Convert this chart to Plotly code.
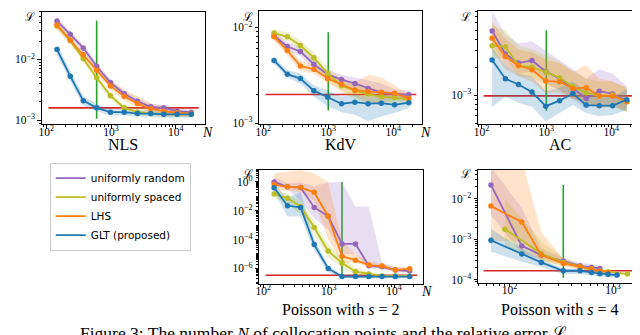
import plotly.graph_objects as go

W, H = 640, 335

# ---------------- data ----------------
N_TOP = [146, 234, 372, 600, 980, 1600, 2570, 4110, 6560, 10500, 17400]

series_names = ["uniformly random", "uniformly spaced", "LHS", "GLT (proposed)"]
series_keys = ["random", "spaced", "lhs", "glt"]
colors = {"random": "#9467bd", "spaced": "#bcbd22", "lhs": "#ff7f0e", "glt": "#1f77b4"}

# NLS
nls_random = [0.0426, 0.0259, 0.0154, 0.0077, 0.00415, 0.00272, 0.00205, 0.00166, 0.0016, 0.00141, 0.00136]
nls_random_lo = [0.037, 0.023, 0.0137, 0.0068, 0.0037, 0.0024, 0.0018, 0.00148, 0.00143, 0.00128, 0.00124]
nls_random_hi = [0.049, 0.029, 0.0174, 0.0087, 0.0047, 0.0031, 0.0023, 0.00185, 0.00178, 0.00156, 0.00148]
nls_lhs = [0.0366, 0.0207, 0.0119, 0.00664, 0.00366, 0.00247, 0.00188, 0.00154, 0.00141, 0.00133, 0.00128]
nls_lhs_lo = [0.032, 0.018, 0.0104, 0.0058, 0.0032, 0.0021, 0.0016, 0.00135, 0.00125, 0.00119, 0.00115]
nls_lhs_hi = [0.041, 0.023, 0.0135, 0.0077, 0.0044, 0.0031, 0.0025, 0.0019, 0.0017, 0.00148, 0.0014]
nls_spaced = [0.0353, 0.0202, 0.0102, 0.00499, 0.00253, 0.0016, 0.00136, 0.00129, 0.00125, 0.00125, 0.00125]
nls_spaced_lo = [0.031, 0.0178, 0.009, 0.0044, 0.0022, 0.00142, 0.00122, 0.00116, 0.00113, 0.00113, 0.00113]
nls_spaced_hi = [0.04, 0.023, 0.0116, 0.0057, 0.0029, 0.0018, 0.00152, 0.00143, 0.00139, 0.00139, 0.00139]
nls_glt = [0.0145, 0.0053, 0.0021, 0.0016, 0.00136, 0.00136, 0.00129, 0.00129, 0.00125, 0.00125, 0.00125]
nls_glt_lo = [0.0118, 0.0044, 0.00175, 0.0014, 0.0012, 0.0012, 0.00114, 0.00114, 0.0011, 0.0011, 0.0011]
nls_glt_hi = [0.0175, 0.0064, 0.0025, 0.00185, 0.00153, 0.00152, 0.00145, 0.00145, 0.0014, 0.0014, 0.0014]

# KdV
kdv_random = [0.0082, 0.00633, 0.00561, 0.00412, 0.00323, 0.00286, 0.0026, 0.00231, 0.00209, 0.00202, 0.00198]
kdv_random_lo = [0.0074, 0.0057, 0.0050, 0.0037, 0.0029, 0.0026, 0.00232, 0.0020, 0.00185, 0.00182, 0.0018]
kdv_random_hi = [0.0090, 0.0070, 0.0062, 0.0046, 0.0036, 0.0032, 0.0030, 0.0028, 0.0026, 0.00225, 0.0022]
kdv_lhs = [0.008, 0.00574, 0.00396, 0.00366, 0.00293, 0.00256, 0.00222, 0.00214, 0.00209, 0.00206, 0.00182]
kdv_lhs_lo = [0.0073, 0.0051, 0.0035, 0.0033, 0.0026, 0.0022, 0.0019, 0.00165, 0.00165, 0.00175, 0.0017]
kdv_lhs_hi = [0.0088, 0.0065, 0.0045, 0.0041, 0.0033, 0.0030, 0.0027, 0.0032, 0.0030, 0.0025, 0.0020]
kdv_spaced = [0.00874, 0.008, 0.00648, 0.00483, 0.0033, 0.00246, 0.00219, 0.00202, 0.0019, 0.00185, 0.00178]
kdv_spaced_lo = [0.0079, 0.0072, 0.0058, 0.0042, 0.0029, 0.0021, 0.0018, 0.0016, 0.0016, 0.0016, 0.0016]
kdv_spaced_hi = [0.0095, 0.0089, 0.0073, 0.0055, 0.0038, 0.0029, 0.0026, 0.0024, 0.0022, 0.0021, 0.0020]
kdv_glt = [0.00453, 0.00325, 0.00293, 0.00219, 0.00187, 0.0016, 0.00166, 0.0016, 0.00162, 0.00156, 0.00164]
kdv_glt_lo = [0.0042, 0.0030, 0.0026, 0.0019, 0.0015, 0.0013, 0.00123, 0.00105, 0.00118, 0.00128, 0.00144]
kdv_glt_hi = [0.0049, 0.0036, 0.0033, 0.0025, 0.0022, 0.0019, 0.0020, 0.0019, 0.0020, 0.0019, 0.0019]

# AC
ac_random = [0.00491, 0.00277, 0.00221, 0.00236, 0.0018, 0.0015, 0.00118, 0.00092, 0.0011, 0.00103, 0.00087]
ac_random_lo = [0.0036, 0.0021, 0.0017, 0.0018, 0.00135, 0.00113, 0.0009, 0.00072, 0.00082, 0.00078, 0.00068]
ac_random_hi = [0.0080, 0.0045, 0.0036, 0.0038, 0.0030, 0.0024, 0.0019, 0.0015, 0.0019, 0.0017, 0.00125]
ac_lhs = [0.0041, 0.0026, 0.00208, 0.00188, 0.00142, 0.00139, 0.00118, 0.0012, 0.00098, 0.00098, 0.00085]
ac_lhs_lo = [0.0030, 0.0019, 0.0016, 0.0014, 0.00105, 0.00105, 0.0009, 0.00085, 0.00074, 0.00075, 0.00066]
ac_lhs_hi = [0.0062, 0.0040, 0.0031, 0.0029, 0.0024, 0.0022, 0.0018, 0.0021, 0.0015, 0.0014, 0.0012]
ac_spaced = [0.0034, 0.00332, 0.00208, 0.002, 0.00177, 0.00154, 0.00123, 0.00106, 0.00098, 0.001, 0.00085]
ac_spaced_lo = [0.0025, 0.0025, 0.0016, 0.00155, 0.0013, 0.00115, 0.00092, 0.0008, 0.00072, 0.00075, 0.00065]
ac_spaced_hi = [0.0055, 0.0050, 0.0034, 0.0031, 0.0027, 0.0023, 0.0018, 0.0015, 0.0014, 0.0014, 0.0012]
ac_glt = [0.00239, 0.0015, 0.0013, 0.00108, 0.00076, 0.00087, 0.00104, 0.00078, 0.00077, 0.00077, 0.00089]
ac_glt_lo = [0.00075, 0.00096, 0.00082, 0.00075, 0.00052, 0.00064, 0.00078, 0.00064, 0.00059, 0.00061, 0.00069]
ac_glt_hi = [0.0033, 0.0021, 0.0017, 0.0016, 0.0011, 0.0012, 0.0014, 0.0011, 0.0010, 0.00096, 0.00115]

# Poisson s=2
p2_random = [1.0, 0.457, 0.412, 0.0171, 0.0042, 5.0e-5, 5.0e-5, 1.52e-6, 1.3e-6, 7.7e-7, 6.6e-7]
p2_random_lo = [0.6, 0.3, 0.05, 0.003, 0.0005, 1e-5, 1.0e-5, 1.0e-6, 9e-7, 5.5e-7, 5e-7]
p2_random_hi = [2.0, 0.8, 0.9, 0.5, 0.9, 1.0, 0.02, 0.02, 2.5e-6, 1.2e-6, 1.0e-6]
p2_lhs = [0.659, 0.457, 0.412, 0.189, 0.0042, 6.9e-6, 3.7e-6, 1.7e-6, 1.44e-6, 7.7e-7, 9.5e-7]
p2_lhs_lo = [0.25, 0.25, 0.2, 0.05, 1e-4, 2.5e-6, 2.5e-6, 1.2e-6, 1.0e-6, 6e-7, 6.5e-7]
p2_lhs_hi = [4.0, 5.0, 6.5, 4.0, 1.0, 8e-5, 1e-5, 3e-6, 2.2e-6, 1.2e-6, 1.3e-6]
p2_spaced = [0.145, 0.0738, 0.02, 6.8e-4, 1.6e-5, 2.4e-6, 5.9e-7, 4.1e-7, 3.0e-7, 3.0e-7, 3.0e-7]
p2_spaced_lo = [0.08, 0.03, 0.006, 2.4e-4, 5.5e-6, 1.2e-6, 3.6e-7, 2.8e-7, 2.4e-7, 2.4e-7, 2.4e-7]
p2_spaced_hi = [0.27, 0.16, 0.05, 0.0019, 5e-5, 5e-6, 1.2e-6, 6e-7, 4e-7, 4e-7, 4e-7]
p2_glt = [0.391, 0.0222, 0.0171, 4.5e-5, 1.0e-6, 2.7e-7, 2.7e-7, 2.7e-7, 2.7e-7, 2.7e-7, 2.7e-7]
p2_glt_lo = [0.2, 0.004, 0.004, 1.8e-5, 5.9e-7, 2.1e-7, 2.1e-7, 2.1e-7, 2.1e-7, 2.1e-7, 2.1e-7]
p2_glt_hi = [0.77, 0.07, 0.2, 1.1e-4, 1.7e-6, 3.5e-7, 3.5e-7, 3.5e-7, 3.5e-7, 3.5e-7, 3.5e-7]

# Poisson s=4 (each sampler has its own N grid)
p4_random_N = [66, 131, 202, 330, 479, 618, 745]
p4_random = [0.022, 6.9e-4, 4.1e-4, 2.9e-4, 2.24e-4, 2.04e-4, 1.93e-4]
p4_random_lo = [0.004, 4.5e-4, 3.3e-4, 2.5e-4, 1.95e-4, 1.75e-4, 1.7e-4]
p4_random_hi = [0.06, 0.006, 6e-4, 3.5e-4, 2.6e-4, 2.5e-4, 2.2e-4]
p4_lhs_N = [66, 131, 202, 330, 479, 618, 745, 895]
p4_lhs = [6.6e-3, 2.68e-3, 4.1e-4, 2.56e-4, 2.12e-4, 1.86e-4, 1.66e-4, 1.54e-4]
p4_lhs_lo = [9e-4, 9e-4, 3e-4, 2.2e-4, 1.85e-4, 1.65e-4, 1.5e-4, 1.4e-4]
p4_lhs_hi = [0.1, 0.1, 1.5e-3, 3.3e-4, 2.4e-4, 2.1e-4, 1.85e-4, 1.7e-4]
p4_spaced_N = [90, 202, 330, 479, 618, 895, 1374]
p4_spaced = [1.78e-3, 4.5e-4, 2.71e-4, 2.12e-4, 1.86e-4, 1.6e-4, 1.4e-4]
p4_spaced_lo = [7e-4, 3e-4, 2.2e-4, 1.9e-4, 1.7e-4, 1.48e-4, 1.32e-4]
p4_spaced_hi = [0.01, 9e-4, 3.6e-4, 2.4e-4, 2.05e-4, 1.75e-4, 1.5e-4]
p4_glt_N = [66, 131, 202, 330, 479, 618, 745, 895, 1092]
p4_glt = [9.5e-4, 4.34e-4, 2.71e-4, 1.69e-4, 1.69e-4, 1.54e-4, 1.43e-4, 1.38e-4, 1.32e-4]
p4_glt_lo = [5e-4, 2.8e-4, 2.1e-4, 1.4e-4, 1.4e-4, 1.3e-4, 1.2e-4, 1.15e-4, 1.1e-4]
p4_glt_hi = [1.8e-3, 6e-4, 3.3e-4, 1.9e-4, 1.9e-4, 1.75e-4, 1.65e-4, 1.6e-4, 1.5e-4]

# reference lines: red horizontal level + x extent, green vertical position + y extent
red_level = {"nls": 0.0016, "kdv": 0.002, "ac": 0.00098, "p2": 3.35e-7, "p4": 1.69e-4}
red_xspan = {"nls": [108, 22700], "kdv": [108, 22700], "ac": [108, 22700], "p2": [108, 22700], "p4": [56, 1620]}
green_N = {"nls": 600, "kdv": 1000, "ac": 1000, "p2": 1600, "p4": 330}
green_yspan = {"nls": [0.0435, 0.00106], "kdv": [0.0089, 0.00136], "ac": [0.005, 0.00068],
               "p2": [1.0, 2.7e-7], "p4": [0.022, 1.14e-4]}

# tick labels
x_ticks_top = [100, 1000, 10000]
x_ticktext_top = ["10<sup>2</sup>", "10<sup>3</sup>", "10<sup>4</sup>"]
x_ticks_p4 = [100, 1000]
x_ticktext_p4 = ["10<sup>2</sup>", "10<sup>3</sup>"]
y_ticks = {"nls": [1e-3, 1e-2], "kdv": [1e-3, 1e-2], "ac": [1e-3],
           "p2": [1e-6, 1e-4, 1e-2, 1], "p4": [1e-4, 1e-3, 1e-2]}
y_ticktext = {"nls": ["10<sup>−3</sup>", "10<sup>−2</sup>"],
              "kdv": ["10<sup>−3</sup>", "10<sup>−2</sup>"],
              "ac": ["10<sup>−3</sup>"],
              "p2": ["10<sup>−6</sup>", "10<sup>−4</sup>", "10<sup>−2</sup>", "10<sup>0</sup>"],
              "p4": ["10<sup>−4</sup>", "10<sup>−3</sup>", "10<sup>−2</sup>"]}

titles = {"nls": "NLS", "kdv": "KdV", "ac": "AC",
          "p2": "Poisson with <i>s</i> = 2", "p4": "Poisson with <i>s</i> = 4"}
caption = "Figure 3: The number <i>N</i> of collocation points and the relative error ℒ"

# ---------------- layout geometry (pixels) ----------------
panels = {
    "nls": dict(ax=1, px=(30, 194), py=(4, 118), xr=[1.93, 4.45], yr=[-3.065, -1.222], tdy=21),
    "kdv": dict(ax=2, px=(249, 413), py=(3, 118), xr=[1.94, 4.45], yr=[-3.01, -1.828], tdy=21),
    "ac": dict(ax=3, px=(469, 633), py=(3, 118), xr=[1.948, 4.46], yr=[-3.314, -2.094], tdy=21),
    "p2": dict(ax=4, px=(249, 414), py=(164, 280), xr=[1.94, 4.45], yr=[-7.07, 0.86], tdy=26),
    "p4": dict(ax=5, px=(469, 633), py=(164, 279), xr=[1.695, 3.27], yr=[-4.07, -1.28], tdy=27),
}

data = {
    "nls": {k: (N_TOP, globals()[f"nls_{k}"], globals()[f"nls_{k}_lo"], globals()[f"nls_{k}_hi"]) for k in series_keys},
    "kdv": {k: (N_TOP, globals()[f"kdv_{k}"], globals()[f"kdv_{k}_lo"], globals()[f"kdv_{k}_hi"]) for k in series_keys},
    "ac": {k: (N_TOP, globals()[f"ac_{k}"], globals()[f"ac_{k}_lo"], globals()[f"ac_{k}_hi"]) for k in series_keys},
    "p2": {k: (N_TOP, globals()[f"p2_{k}"], globals()[f"p2_{k}_lo"], globals()[f"p2_{k}_hi"]) for k in series_keys},
    "p4": {k: (globals()[f"p4_{k}_N"], globals()[f"p4_{k}"], globals()[f"p4_{k}_lo"], globals()[f"p4_{k}_hi"]) for k in series_keys},
}

SERIF = "Liberation Serif, DejaVu Serif, serif"


def rgba(hexc, a):
    hexc = hexc.lstrip("#")
    r, g, b = int(hexc[0:2], 16), int(hexc[2:4], 16), int(hexc[4:6], 16)
    return f"rgba({r},{g},{b},{a})"


def minor_vals(lo_exp, hi_exp, subs=range(2, 10)):
    vals = []
    for e in range(lo_exp, hi_exp + 1):
        for s in subs:
            vals.append(s * 10.0 ** e)
    return vals


fig = go.Figure()
layout = dict(width=W, height=H, margin=dict(l=0, r=0, t=0, b=0), autosize=False,
              paper_bgcolor="white", plot_bgcolor="white", showlegend=True)
annotations = []

draw_order = ["random", "spaced", "lhs", "glt"]

for key, p in panels.items():
    i = p["ax"]
    xa = "x" if i == 1 else f"x{i}"
    ya = "y" if i == 1 else f"y{i}"
    xname = "xaxis" if i == 1 else f"xaxis{i}"
    yname = "yaxis" if i == 1 else f"yaxis{i}"
    axcommon = dict(type="log", showline=True, linecolor="black", linewidth=1.1, mirror=True,
                    ticks="outside", ticklen=3.5, tickwidth=0.9, tickcolor="black",
                    showgrid=False, zeroline=False, tickmode="array",
                    tickfont=dict(family=SERIF, size=11.5, color="black"))
    xt, xtt = (x_ticks_p4, x_ticktext_p4) if key == "p4" else (x_ticks_top, x_ticktext_top)
    layout[xname] = dict(axcommon, domain=[p["px"][0] / W, p["px"][1] / W], range=p["xr"],
                         anchor=ya, tickvals=xt, ticktext=xtt, ticklabelstandoff=-7,
                         minor=dict(tickmode="array", tickvals=minor_vals(1, 4), ticks="outside",
                                    ticklen=2, tickwidth=0.7, tickcolor="black", showgrid=False))
    if key == "p2":
        ymin = minor_vals(-8, 0, subs=[1, 2, 3, 4, 5, 6, 7, 8, 9])
        ymin = [v for v in ymin if v not in y_ticks[key]]
    else:
        ymin = minor_vals(-5, -1)
    layout[yname] = dict(axcommon, domain=[1 - p["py"][1] / H, 1 - p["py"][0] / H], range=p["yr"],
                         anchor=xa, tickvals=y_ticks[key], ticktext=y_ticktext[key],
                         minor=dict(tickmode="array", tickvals=ymin, ticks="outside",
                                    ticklen=2, tickwidth=0.7, tickcolor="black", showgrid=False))

    # reference lines
    fig.add_trace(go.Scatter(x=red_xspan[key], y=[red_level[key]] * 2, mode="lines",
                             line=dict(color="#d62728", width=1.6), xaxis=xa, yaxis=ya,
                             showlegend=False, hoverinfo="skip"))
    fig.add_trace(go.Scatter(x=[green_N[key]] * 2, y=green_yspan[key], mode="lines",
                             line=dict(color="#2ca02c", width=1.6), xaxis=xa, yaxis=ya,
                             showlegend=False, hoverinfo="skip"))
    # bands
    for k in draw_order:
        Ns, v, lo, hi = data[key][k]
        fig.add_trace(go.Scatter(x=list(Ns) + list(Ns)[::-1], y=list(hi) + list(lo)[::-1],
                                 fill="toself", fillcolor=rgba(colors[k], 0.22),
                                 line=dict(width=0), mode="lines", xaxis=xa, yaxis=ya,
                                 showlegend=False, hoverinfo="skip"))
    # lines
    for k in draw_order:
        Ns, v, lo, hi = data[key][k]
        fig.add_trace(go.Scatter(x=Ns, y=v, mode="lines+markers",
                                 line=dict(color=colors[k], width=1.8),
                                 marker=dict(color=colors[k], size=5.5),
                                 xaxis=xa, yaxis=ya, showlegend=False))

    # axis labels
    x0, x1 = p["px"]
    y0, y1 = p["py"]
    annotations.append(dict(text="ℒ", x=(x0 - 12) / W, y=1 - max(0, y0 - 5) / H, xref="paper", yref="paper",
                            showarrow=False, xanchor="center", yanchor="top",
                            font=dict(family=SERIF, size=12, color="black")))
    annotations.append(dict(text="<i>N</i>", x=(x1 + 3) / W, y=1 - (y1 + 8) / H, xref="paper", yref="paper",
                            showarrow=False, xanchor="center", yanchor="middle",
                            font=dict(family=SERIF, size=14, color="black")))
    annotations.append(dict(text=titles[key], x=(x0 + x1) / 2 / W, y=1 - (y1 + p["tdy"]) / H,
                            xref="paper", yref="paper", showarrow=False,
                            xanchor="center", yanchor="middle",
                            font=dict(family=SERIF, size=16, color="black")))

annotations.append(dict(text=caption, x=313 / W, y=1 - 330 / H, xref="paper", yref="paper",
                        showarrow=False, xanchor="center", yanchor="middle",
                        font=dict(family=SERIF, size=17.5, color="black")))

# legend-only traces
for name, k in zip(series_names, series_keys):
    fig.add_trace(go.Scatter(x=[None], y=[None], mode="lines", name=name,
                             line=dict(color=colors[k], width=1.8), showlegend=True))

layout["legend"] = dict(x=38 / W, y=1 - 157 / H, xanchor="left", yanchor="top",
                        xref="paper", yref="paper",
                        bgcolor="white", bordercolor="#cccccc", borderwidth=1,
                        font=dict(family="DejaVu Sans", size=10.5, color="black"),
                        tracegroupgap=0, itemwidth=30)
layout["annotations"] = annotations
fig.update_layout(**layout)
fig.write_html("out.html")
